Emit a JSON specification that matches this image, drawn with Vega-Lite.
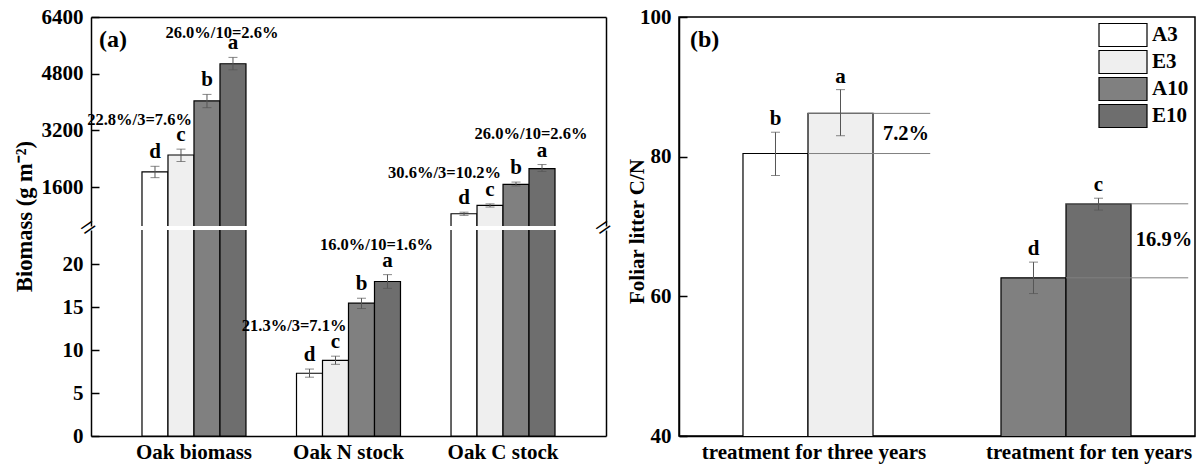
{
  "$schema": "https://vega.github.io/schema/vega-lite/v6.json",
  "padding": {"left": 13, "top": 5, "right": 5, "bottom": 5},
  "config": {
    "view": {"stroke": null},
    "axis": {
      "labelFont": "Liberation Serif", "labelFontWeight": "bold", "labelFontSize": 21, "labelColor": "black",
      "titleFont": "Liberation Serif", "titleFontWeight": "bold", "titleFontSize": 21, "titleColor": "black",
      "domainColor": "black", "domainWidth": 1.5, "tickColor": "black", "tickWidth": 1.5,
      "grid": false, "labelLimit": 0
    },
    "text": {"font": "Liberation Serif", "fontWeight": "bold", "color": "black"},
    "title": {"font": "Liberation Serif", "fontWeight": "bold", "color": "black", "fontSize": 24}
  },
  "datasets": {
    "oak": [
      {"variable": "Oak biomass", "treatment": "A3", "value": 2030, "lo": 1865, "hi": 2185, "letter": "d"},
      {"variable": "Oak biomass", "treatment": "E3", "value": 2505, "lo": 2320, "hi": 2670, "letter": "c"},
      {"variable": "Oak biomass", "treatment": "A10", "value": 4030, "lo": 3840, "hi": 4215, "letter": "b"},
      {"variable": "Oak biomass", "treatment": "E10", "value": 5080, "lo": 4910, "hi": 5260, "letter": "a"},
      {"variable": "Oak N stock", "treatment": "A3", "value": 7.31, "lo": 6.85, "hi": 7.8, "letter": "d"},
      {"variable": "Oak N stock", "treatment": "E3", "value": 8.82, "lo": 8.35, "hi": 9.3, "letter": "c"},
      {"variable": "Oak N stock", "treatment": "A10", "value": 15.47, "lo": 14.85, "hi": 16.05, "letter": "b"},
      {"variable": "Oak N stock", "treatment": "E10", "value": 18.0, "lo": 17.2, "hi": 18.8, "letter": "a"},
      {"variable": "Oak C stock", "treatment": "A3", "value": 846, "lo": 800, "hi": 890, "letter": "d"},
      {"variable": "Oak C stock", "treatment": "E3", "value": 1080, "lo": 1035, "hi": 1125, "letter": "c"},
      {"variable": "Oak C stock", "treatment": "A10", "value": 1675, "lo": 1630, "hi": 1740, "letter": "b"},
      {"variable": "Oak C stock", "treatment": "E10", "value": 2117, "lo": 2040, "hi": 2235, "letter": "a"}
    ],
    "notesA": [
      {"variable": "Oak biomass", "treatment": "E3", "y": 3480, "label": "22.8%/3=7.6%"},
      {"variable": "Oak biomass", "treatment": "E10", "y": 5960, "label": "26.0%/10=2.6%"},
      {"variable": "Oak N stock", "treatment": "E3", "y": 12.8, "label": "21.3%/3=7.1%"},
      {"variable": "Oak N stock", "treatment": "E10", "y": 22.25, "label": "16.0%/10=1.6%"},
      {"variable": "Oak C stock", "treatment": "E3", "y": 2010, "label": "30.6%/3=10.2%"},
      {"variable": "Oak C stock", "treatment": "E10", "y": 3090, "label": "26.0%/10=2.6%"}
    ],
    "litter": [
      {"period": "treatment for three years", "co2": "A", "treatment": "A3", "value": 80.45, "lo": 77.3, "hi": 83.5, "letter": "b"},
      {"period": "treatment for three years", "co2": "E", "treatment": "E3", "value": 86.2, "lo": 83.0, "hi": 89.6, "letter": "a"},
      {"period": "treatment for ten years", "co2": "A", "treatment": "A10", "value": 62.65, "lo": 60.4, "hi": 64.9, "letter": "d"},
      {"period": "treatment for ten years", "co2": "E", "treatment": "E10", "value": 73.25, "lo": 72.35, "hi": 74.05, "letter": "c"}
    ],
    "notesB": [
      {"period": "treatment for three years", "y": 83.3, "label": "7.2%"},
      {"period": "treatment for ten years", "y": 68.0, "label": "16.9%"}
    ]
  },
  "hconcat": [
    {
      "vconcat": [
        {
          "width": 515,
          "height": 209,
          "title": {"text": "(a)", "anchor": "start", "frame": "group", "offset": -46, "dx": 8},
          "data": {"name": "oak"},
          "encoding": {
            "x": {
              "field": "variable", "type": "nominal",
              "scale": {"type": "band", "domain": ["Oak biomass", "Oak N stock", "Oak C stock"], "paddingInner": 0.327, "paddingOuter": 0.33},
              "axis": {"orient": "top", "labels": false, "ticks": false, "title": null}
            },
            "xOffset": {"field": "treatment", "type": "nominal", "scale": {"type": "band", "domain": ["A3", "E3", "A10", "E10"], "paddingInner": 0, "paddingOuter": 0}}
          },
          "layer": [
            {
              "transform": [{"filter": "datum.variable != 'Oak N stock'"}],
              "mark": {"type": "bar", "stroke": "black", "strokeWidth": 1.2, "clip": true},
              "encoding": {
                "y": {
                  "field": "value", "type": "quantitative",
                  "scale": {"domain": [500, 6400], "nice": false, "zero": false},
                  "axis": {"values": [1600, 3200, 4800, 6400], "format": "d", "tickSize": -8, "labelPadding": 16, "title": null, "labelFlush": false}
                },
                "fill": {
                  "field": "treatment", "type": "nominal",
                  "scale": {"domain": ["A3", "E3", "A10", "E10"], "range": ["#ffffff", "#efefef", "#808080", "#6e6e6e"]},
                  "legend": null
                }
              }
            },
            {
              "transform": [{"filter": "datum.variable != 'Oak N stock'"}],
              "mark": {"type": "rule", "color": "#555555", "strokeWidth": 1},
              "encoding": {
                "y": {"field": "lo", "type": "quantitative", "axis": {"orient": "right", "labels": false, "ticks": false, "title": null}},
                "y2": {"field": "hi"}
              }
            },
            {
              "transform": [{"filter": "datum.variable != 'Oak N stock'"}],
              "mark": {"type": "tick", "color": "#555555", "thickness": 1, "size": 9},
              "encoding": {"y": {"field": "lo", "type": "quantitative", "axis": null}}
            },
            {
              "transform": [{"filter": "datum.variable != 'Oak N stock'"}],
              "mark": {"type": "tick", "color": "#555555", "thickness": 1, "size": 9},
              "encoding": {"y": {"field": "hi", "type": "quantitative", "axis": null}}
            },
            {
              "transform": [{"filter": "datum.variable != 'Oak N stock'"}],
              "mark": {"type": "text", "baseline": "alphabetic", "dy": -8, "fontSize": 21},
              "encoding": {"y": {"field": "hi", "type": "quantitative", "axis": null}, "text": {"field": "letter"}}
            },
            {
              "data": {"name": "notesA"},
              "transform": [{"filter": "datum.variable != 'Oak N stock' && datum.treatment == 'E3'"}],
              "mark": {"type": "text", "align": "right", "baseline": "middle", "dx": 11, "fontSize": 16.5},
              "encoding": {"y": {"field": "y", "type": "quantitative", "axis": null}, "text": {"field": "label"}}
            },
            {
              "data": {"name": "notesA"},
              "transform": [{"filter": "datum.variable != 'Oak N stock' && datum.treatment == 'E10'"}],
              "mark": {"type": "text", "align": "center", "baseline": "middle", "dx": -11, "fontSize": 16.5},
              "encoding": {"y": {"field": "y", "type": "quantitative", "axis": null}, "text": {"field": "label"}}
            }
          ],
          "resolve": {"axis": {"y": "independent"}}
        },
        {
          "width": 515,
          "height": 206,
          "data": {"name": "oak"},
          "encoding": {
            "x": {
              "field": "variable", "type": "nominal",
              "scale": {"type": "band", "domain": ["Oak biomass", "Oak N stock", "Oak C stock"], "paddingInner": 0.327, "paddingOuter": 0.33},
              "axis": {"orient": "bottom", "ticks": false, "title": null, "labelAngle": 0, "labelPadding": 5}
            }
          },
          "layer": [
            {
              "mark": {"type": "bar", "stroke": "black", "strokeWidth": 1.2, "clip": true},
              "encoding": {
                "xOffset": {"field": "treatment", "type": "nominal", "scale": {"type": "band", "domain": ["A3", "E3", "A10", "E10"], "paddingInner": 0, "paddingOuter": 0}},
                "y": {
                  "field": "value", "type": "quantitative",
                  "scale": {"domain": [0, 24], "nice": false},
                  "axis": {"values": [0, 5, 10, 15, 20], "tickSize": -8, "labelPadding": 16, "labelFlush": false,
                           "title": "Biomass (g m⁻²)", "titleFontSize": 22.5, "titleX": -55, "titleY": -14}
                },
                "fill": {
                  "field": "treatment", "type": "nominal",
                  "scale": {"domain": ["A3", "E3", "A10", "E10"], "range": ["#ffffff", "#efefef", "#808080", "#6e6e6e"]},
                  "legend": null
                }
              }
            },
            {
              "transform": [{"filter": "datum.variable == 'Oak N stock'"}],
              "mark": {"type": "rule", "color": "#555555", "strokeWidth": 1},
              "encoding": {
                "xOffset": {"field": "treatment", "type": "nominal", "scale": {"type": "band", "domain": ["A3", "E3", "A10", "E10"], "paddingInner": 0, "paddingOuter": 0}},
                "y": {"field": "lo", "type": "quantitative", "axis": {"orient": "right", "labels": false, "ticks": false, "title": null}},
                "y2": {"field": "hi"}
              }
            },
            {
              "transform": [{"filter": "datum.variable == 'Oak N stock'"}],
              "mark": {"type": "tick", "color": "#555555", "thickness": 1, "size": 9},
              "encoding": {
                "xOffset": {"field": "treatment", "type": "nominal", "scale": {"type": "band", "domain": ["A3", "E3", "A10", "E10"], "paddingInner": 0, "paddingOuter": 0}},
                "y": {"field": "lo", "type": "quantitative", "axis": null}
              }
            },
            {
              "transform": [{"filter": "datum.variable == 'Oak N stock'"}],
              "mark": {"type": "tick", "color": "#555555", "thickness": 1, "size": 9},
              "encoding": {
                "xOffset": {"field": "treatment", "type": "nominal", "scale": {"type": "band", "domain": ["A3", "E3", "A10", "E10"], "paddingInner": 0, "paddingOuter": 0}},
                "y": {"field": "hi", "type": "quantitative", "axis": null}
              }
            },
            {
              "transform": [{"filter": "datum.variable == 'Oak N stock'"}],
              "mark": {"type": "text", "baseline": "alphabetic", "dy": -8, "fontSize": 21},
              "encoding": {
                "xOffset": {"field": "treatment", "type": "nominal", "scale": {"type": "band", "domain": ["A3", "E3", "A10", "E10"], "paddingInner": 0, "paddingOuter": 0}},
                "y": {"field": "hi", "type": "quantitative", "axis": null},
                "text": {"field": "letter"}
              }
            },
            {
              "data": {"name": "notesA"},
              "transform": [{"filter": "datum.variable == 'Oak N stock' && datum.treatment == 'E3'"}],
              "mark": {"type": "text", "align": "right", "baseline": "middle", "dx": 11, "fontSize": 16.5},
              "encoding": {
                "xOffset": {"field": "treatment", "type": "nominal", "scale": {"type": "band", "domain": ["A3", "E3", "A10", "E10"], "paddingInner": 0, "paddingOuter": 0}},
                "y": {"field": "y", "type": "quantitative", "axis": null},
                "text": {"field": "label"}
              }
            },
            {
              "data": {"name": "notesA"},
              "transform": [{"filter": "datum.variable == 'Oak N stock' && datum.treatment == 'E10'"}],
              "mark": {"type": "text", "align": "center", "baseline": "middle", "dx": -11, "fontSize": 16.5},
              "encoding": {
                "xOffset": {"field": "treatment", "type": "nominal", "scale": {"type": "band", "domain": ["A3", "E3", "A10", "E10"], "paddingInner": 0, "paddingOuter": 0}},
                "y": {"field": "y", "type": "quantitative", "axis": null},
                "text": {"field": "label"}
              }
            },
            {
              "data": {"values": [{"variable": "Oak biomass", "mark": "="}]},
              "mark": {"type": "text", "align": "center", "baseline": "middle", "angle": -35, "fontSize": 28, "fontWeight": "normal", "dy": -2},
              "encoding": {
                "x": {"field": "variable", "type": "nominal", "bandPosition": -0.5},
                "y": {"datum": 24, "type": "quantitative", "axis": null},
                "text": {"field": "mark"}
              }
            },
            {
              "data": {"values": [{"variable": "Oak C stock", "mark": "="}]},
              "mark": {"type": "text", "align": "center", "baseline": "middle", "angle": -35, "fontSize": 28, "fontWeight": "normal", "dy": -2},
              "encoding": {
                "x": {"field": "variable", "type": "nominal", "bandPosition": 1.481},
                "y": {"datum": 24, "type": "quantitative", "axis": null},
                "text": {"field": "mark"}
              }
            }
          ],
          "resolve": {"axis": {"y": "independent"}}
        }
      ],
      "spacing": 4,
      "bounds": "flush",
      "resolve": {"scale": {"xOffset": "independent"}}
    },
    {
      "width": 516,
      "height": 419,
      "view": {"stroke": "black", "strokeWidth": 1.5},
      "title": {"text": "(b)", "anchor": "start", "frame": "group", "offset": -46, "dx": 11},
      "data": {"name": "litter"},
      "encoding": {
        "x": {
          "field": "period", "type": "nominal",
          "scale": {"type": "band", "domain": ["treatment for three years", "treatment for ten years"], "paddingInner": 0.496, "paddingOuter": 0.248},
          "axis": {"ticks": false, "title": null, "labelAngle": 0, "labelPadding": 5,
                   "labelOffset": {"condition": {"test": "datum.value == 'treatment for ten years'", "value": 23}, "value": 6}}
        }
      },
      "layer": [
        {
          "mark": {"type": "bar", "stroke": "black", "strokeWidth": 1.2, "clip": true},
          "encoding": {
            "xOffset": {"field": "co2", "type": "nominal", "scale": {"type": "band", "domain": ["A", "E"], "paddingInner": 0, "paddingOuter": 0}},
            "y": {
              "field": "value", "type": "quantitative",
              "scale": {"domain": [40, 100], "nice": false, "zero": false},
              "axis": {"values": [40, 60, 80, 100], "tickSize": -8, "labelPadding": 16, "labelFlush": false,
                       "title": "Foliar litter C/N", "titleX": -32, "titleY": 214}
            },
            "fill": {
              "field": "treatment", "type": "nominal",
              "scale": {"domain": ["A3", "E3", "A10", "E10"], "range": ["#ffffff", "#efefef", "#808080", "#6e6e6e"]},
              "legend": {
                "orient": "none", "legendX": 431, "legendY": 5, "title": null, "padding": 0,
                "symbolType": "M-2,-0.96H2V0.96H-2Z", "symbolSize": 576,
                "symbolStrokeColor": "black", "symbolStrokeWidth": 1.2,
                "labelFont": "Liberation Serif", "labelFontWeight": "bold", "labelFontSize": 21, "labelColor": "black",
                "labelOffset": 16, "rowPadding": -1
              }
            }
          }
        },
        {
          "mark": {"type": "rule", "color": "#808080", "strokeWidth": 1},
          "encoding": {
            "x": {"field": "period", "type": "nominal", "bandPosition": 0.5},
            "x2": {"field": "period", "bandPosition": 1.44},
            "y": {"field": "value", "type": "quantitative"}
          }
        },
        {
          "mark": {"type": "rule", "color": "#555555", "strokeWidth": 1},
          "encoding": {
            "xOffset": {"field": "co2", "type": "nominal", "scale": {"type": "band", "domain": ["A", "E"], "paddingInner": 0, "paddingOuter": 0}},
            "y": {"field": "lo", "type": "quantitative"},
            "y2": {"field": "hi"}
          }
        },
        {
          "mark": {"type": "tick", "color": "#555555", "thickness": 1, "size": 9},
          "encoding": {
            "xOffset": {"field": "co2", "type": "nominal", "scale": {"type": "band", "domain": ["A", "E"], "paddingInner": 0, "paddingOuter": 0}},
            "y": {"field": "lo", "type": "quantitative"}
          }
        },
        {
          "mark": {"type": "tick", "color": "#555555", "thickness": 1, "size": 9},
          "encoding": {
            "xOffset": {"field": "co2", "type": "nominal", "scale": {"type": "band", "domain": ["A", "E"], "paddingInner": 0, "paddingOuter": 0}},
            "y": {"field": "hi", "type": "quantitative"}
          }
        },
        {
          "mark": {"type": "text", "baseline": "alphabetic", "dy": -7, "fontSize": 21},
          "encoding": {
            "xOffset": {"field": "co2", "type": "nominal", "scale": {"type": "band", "domain": ["A", "E"], "paddingInner": 0, "paddingOuter": 0}},
            "y": {"field": "hi", "type": "quantitative"},
            "text": {"field": "letter"}
          }
        },
        {
          "data": {"name": "notesB"},
          "mark": {"type": "text", "align": "center", "baseline": "middle", "fontSize": 20.5},
          "encoding": {
            "x": {"field": "period", "type": "nominal", "bandPosition": 1.254},
            "y": {"field": "y", "type": "quantitative"},
            "text": {"field": "label"}
          }
        }
      ]
    }
  ],
  "spacing": 6,
  "resolve": {"scale": {"fill": "independent", "xOffset": "independent"}}
}
